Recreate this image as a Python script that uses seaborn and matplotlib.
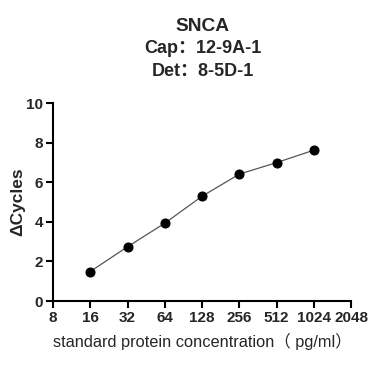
import numpy as np
import pandas as pd
import matplotlib
matplotlib.use("Agg")
import matplotlib.pyplot as plt
import seaborn as sns

# ==========================================================
# DATA
# ==========================================================

concentration = [16, 32, 64, 128, 256, 512, 1024]
delta_cycles = [1.49, 2.74, 3.93, 5.29, 6.41, 6.99, 7.62]

x_ticks = [8, 16, 32, 64, 128, 256, 512, 1024, 2048]
y_ticks = [0, 2, 4, 6, 8, 10]

df = pd.DataFrame({"conc": concentration, "dc": delta_cycles})

# ==========================================================
# STYLE
# ==========================================================

sns.set_style("ticks")
plt.rcParams["font.family"] = ["Liberation Sans", "Noto Sans CJK SC", "DejaVu Sans"]

fig = plt.figure(figsize=(3.68, 3.68), dpi=100)
ax = fig.add_axes([0.144, 0.182, 0.81, 0.538])

sns.lineplot(
    data=df, x="conc", y="dc", ax=ax,
    color="#555555", linewidth=0.9,
    marker="o", markersize=6.5,
    markerfacecolor="black", markeredgecolor="black"
)

ax.set_xscale("log", base=2)
ax.set_xlim(8, 2048)
ax.set_ylim(0, 10)
ax.set_xticks(x_ticks)
ax.set_xticklabels([str(t) for t in x_ticks])
ax.set_yticks(y_ticks)
ax.minorticks_off()

ax.tick_params(axis="both", direction="out", length=5, width=1.5,
               labelsize=11, color="black", pad=2)
for lab in ax.get_xticklabels() + ax.get_yticklabels():
    lab.set_fontweight("bold")

for side in ["top", "right"]:
    ax.spines[side].set_visible(False)
for side in ["left", "bottom"]:
    ax.spines[side].set_linewidth(1.5)
    ax.spines[side].set_color("black")

ax.set_xlabel("standard protein concentration（ pg/ml）", fontsize=11.8, labelpad=6)
ax.set_ylabel("ΔCycles", fontsize=12.5, fontweight="bold", labelpad=1)

fig.text(0.55, 0.927, "SNCA", ha="center", va="center", fontsize=13.8, fontweight="bold")
fig.text(0.55, 0.867, "Cap：12-9A-1", ha="center", va="center", fontsize=13, fontweight="bold")
fig.text(0.55, 0.807, "Det：8-5D-1", ha="center", va="center", fontsize=13, fontweight="bold")

plt.savefig("out.png", dpi=100)
